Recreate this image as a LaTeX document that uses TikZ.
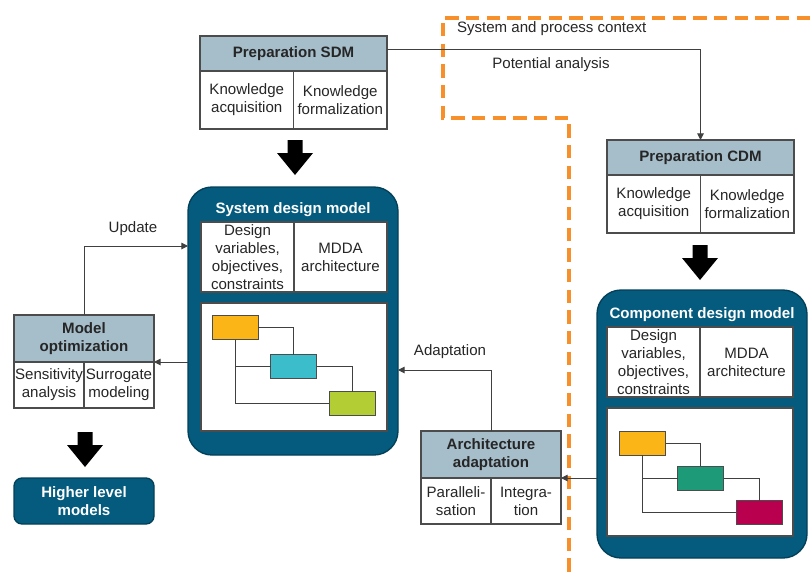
\documentclass[tikz,border=0pt]{standalone}
\usepackage{fontspec}
\setmainfont{Liberation Sans}
\usetikzlibrary{positioning,arrows.meta}
\definecolor{modelblue}{HTML}{045B7E}
\definecolor{hdrgray}{HTML}{A6BDCA}
\definecolor{ctxorange}{HTML}{F7902A}
\definecolor{boxorange}{HTML}{FBB516}
\definecolor{boxcyan}{HTML}{3BBDCB}
\definecolor{boxlime}{HTML}{B3CE34}
\definecolor{boxteal}{HTML}{1D9A78}
\definecolor{boxred}{HTML}{B8004E}
\newcommand{\txt}{\fontsize{11.3}{13.5}\selectfont}
\tikzset{
  every node/.style={
    font=\txt,
    text=black!85,
    inner sep=0pt,
    outer sep=0pt
  },
  phdr/.style={draw=black!70, line width=0.8pt, fill=hdrgray, font=\txt\bfseries,
    minimum width=140.25pt, minimum height=26.25pt},
  pcell/.style={draw=black!70, line width=0.8pt, fill=white, align=center,
    minimum width=70.125pt, minimum height=43.5pt},
  ohdr/.style={draw=black!70, line width=0.8pt, fill=hdrgray, font=\txt\bfseries, align=center,
    minimum width=105pt, minimum height=35.25pt},
  ocell/.style={draw=black!70, line width=0.8pt, fill=white, align=center,
    minimum width=52.5pt, minimum height=34.5pt},
  model/.style={draw=modelblue!70!black, fill=modelblue, line width=1pt,
    rounded corners=18pt, minimum width=157.5pt, minimum height=201pt},
  mtitle/.style={text=white, font=\txt\bfseries},
  mcell/.style={draw=black!70, line width=0.8pt, fill=white, align=center,
    minimum width=69.75pt, minimum height=52.5pt},
  panel/.style={draw=black!70, line width=0.8pt, fill=white,
    minimum width=139.5pt, minimum height=96pt},
  blk/.style={draw=black!70, line width=0.6pt, minimum width=34.5pt, minimum height=18pt},
  link/.style={draw=black!75, line width=0.75pt},
  tip/.style={-{Triangle[length=5pt,width=5pt]}},
  ctx/.style={draw=ctxorange, line width=2.6pt, dash pattern=on 10pt off 5.5pt},
  higher/.style={draw=modelblue!70!black, fill=modelblue, line width=1pt, rounded corners=6pt,
    minimum width=105pt, minimum height=34.5pt, text=white, font=\txt\bfseries, align=center},
  bigdown/.pic={
    \fill[black] (-7.5,0) -- (7.5,0) -- (7.5,13) -- (18,13) -- (0,35)
      -- (-18,13) -- (-7.5,13) -- cycle;
  }
}

\begin{document}
\begin{tikzpicture}[x=0.75pt,y=-0.75pt]
  \useasboundingbox (0,0) rectangle (810,572);

  % system and process context
  \draw[ctx] (810,18) -- (443,18) -- (443,118) -- (569,118) -- (569,572);

  % preparation SDM
  \node [phdr, anchor=north west] (PrepSDM) at (200,36) {Preparation SDM};
  \node [pcell, below right=0pt and 0pt of PrepSDM.south west] (PrepSDMa) {Knowledge\\acquisition};
  \node [pcell, right=0pt of PrepSDMa] (PrepSDMb) {Knowledge\\formalization};
  \pic at (295,140) {bigdown};

  % preparation CDM
  \node [phdr, anchor=north west] (PrepCDM) at (607,140) {Preparation CDM};
  \node [pcell, below right=0pt and 0pt of PrepCDM.south west] (PrepCDMa) {Knowledge\\acquisition};
  \node [pcell, right=0pt of PrepCDMa] (PrepCDMb) {Knowledge\\formalization};
  \pic at (700,245) {bigdown};

  \draw [link, tip] ([yshift=3pt]PrepSDM.east) -| (PrepCDM.north);
  \node [anchor=west] (CtxLbl) at (457,29) {System and process context};
  \node (PotLbl) at (551,65) {Potential analysis};

  % system design model
  \node [model] (SysModel) at (293,321) {};
  \node [mtitle, on grid, below=12pt of SysModel.north] (SysTitle) {System design model};
  \node [mcell, anchor=north west] (SysVar) at (201,222) {Design\\variables,\\objectives,\\constraints};
  \node [mcell, right=0pt of SysVar] (SysArch) {MDDA\\architecture};
  \node [panel, below right=8.25pt and 0pt of SysVar.south west] (SysPanel) {};
  \node [blk, fill=boxorange] (SysB1) at (235,327.5) {};
  \node [blk, fill=boxcyan] (SysB2) at (293.5,366.5) {};
  \node [blk, fill=boxlime] (SysB3) at (352,403.5) {};
  \draw [link] (SysB1.east) -| (SysB2.north);
  \draw [link] (SysB2.east) -| (SysB3.north);
  \draw [link] (SysB1.south) |- (SysB3.west);
  \draw [link] (SysB2.west) -- (SysB2.west -| SysB1.south);

  % component design model
  \node [model] (CompModel) at (702,424) {};
  \node [mtitle, on grid, below=13.5pt of CompModel.north] (CompTitle) {Component design model};
  \node [mcell, anchor=north west] (CompVar) at (607,327) {Design\\variables,\\objectives,\\constraints};
  \node [mcell, right=0pt of CompVar] (CompArch) {MDDA\\architecture};
  \node [panel, below right=8.25pt and 0pt of CompVar.south west] (CompPanel) {};
  \node [blk, fill=boxorange] (CompB1) at (642.5,443) {};
  \node [blk, fill=boxteal] (CompB2) at (700.5,478) {};
  \node [blk, fill=boxred] (CompB3) at (759,512.5) {};
  \draw [link] (CompB1.east) -| (CompB2.north);
  \draw [link] (CompB2.east) -| (CompB3.north);
  \draw [link] (CompB1.south) |- (CompB3.west);
  \draw [link] (CompB2.west) -- (CompB2.west -| CompB1.south);

  % architecture adaptation
  \node [ohdr, anchor=north west] (ArchAdapt) at (421,431) {Architecture\\adaptation};
  \node [ocell, below right=0pt and 0pt of ArchAdapt.south west] (ArchPar) {Paralleli-\\sation};
  \node [ocell, right=0pt of ArchPar] (ArchInt) {Integra-\\tion};
  \draw [link, tip] (CompModel.west |- ArchAdapt.south) -- (ArchAdapt.south east);
  \coordinate (AdaptIn) at (398,370);
  \draw [link, tip] (ArchAdapt.north) |- (AdaptIn);
  \node (AdaptLbl) at (450,352) {Adaptation};

  % model optimization
  \node [ohdr, anchor=north west] (ModelOpt) at (14,315) {Model\\optimization};
  \node [ocell, below right=0pt and 0pt of ModelOpt.south west] (OptSens) {Sensitivity\\analysis};
  \node [ocell, right=0pt of OptSens] (OptSurr) {Surrogate\\modeling};
  \draw [link, tip] (SysModel.west |- ModelOpt.south) -- (ModelOpt.south east);
  \coordinate (UpdIn) at (188,246);
  \draw [link, tip] (ModelOpt.north) |- (UpdIn);
  \node (UpdLbl) at (133,229) {Update};
  \pic at (85,432) {bigdown};

  \node [higher] (Higher) at (84,501) {Higher level\\models};
\end{tikzpicture}
\end{document}
